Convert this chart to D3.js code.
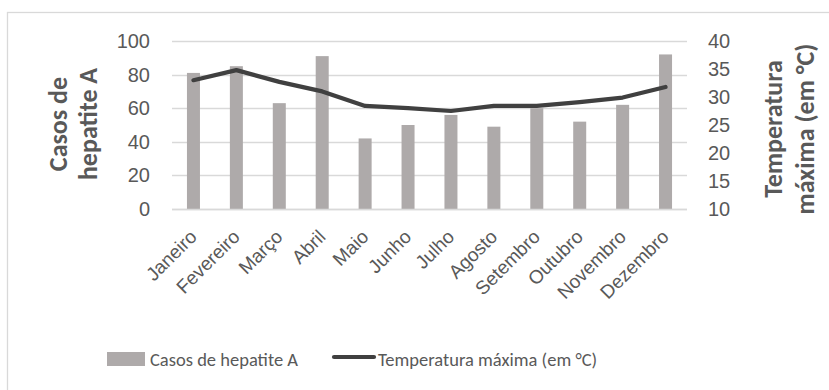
<!DOCTYPE html>
<html>
<head>
<meta charset="utf-8">
<script src="https://cdn.jsdelivr.net/npm/d3@7"></script>
<style>
  html, body { margin: 0; padding: 0; background: #fff; }
  svg { display: block; font-family: Carlito, Calibri, Lato, "Open Sans", sans-serif; }
</style>
</head>
<body>
<svg id="chart" width="829" height="390"></svg>
<script>
// Monthly data
const months = ["Janeiro", "Fevereiro", "Março", "Abril", "Maio", "Junho",
                "Julho", "Agosto", "Setembro", "Outubro", "Novembro", "Dezembro"];
const hepatitisCases = [81, 85, 63, 91, 42, 50, 56, 49, 60, 52, 62, 92];
const maxTemperature = [33.0, 34.8, 32.7, 31.0, 28.4, 28.0, 27.5, 28.4, 28.4, 29.1, 29.9, 31.8];
const leftTicks = [0, 20, 40, 60, 80, 100];
const rightTicks = [10, 15, 20, 25, 30, 35, 40];

const svg = d3.select("#chart");
const textColor = "#595959";
const gridColor = "#d9d9d9";
const barColor = "#aeaaaa";
const lineColor = "#404040";

// Chart frame
svg.append("rect")
  .attr("x", 7.5).attr("y", 12.5)
  .attr("width", 840).attr("height", 400)
  .attr("fill", "none").attr("stroke", gridColor).attr("stroke-width", 1.3);

const plot = { left: 172, right: 687, top: 41, bottom: 209 };

const xc = d3.scalePoint().domain(months).range([plot.left, plot.right]).padding(0.5);
const yL = d3.scaleLinear().domain([0, 100]).range([plot.bottom, plot.top]);
const yR = d3.scaleLinear().domain([10, 40]).range([plot.bottom, plot.top]);

// Gridlines
svg.append("g").selectAll("line").data(leftTicks).join("line")
  .attr("x1", plot.left).attr("x2", plot.right)
  .attr("y1", d => Math.round(yL(d)) + 0.5).attr("y2", d => Math.round(yL(d)) + 0.5)
  .attr("stroke", gridColor).attr("stroke-width", 1.3);

// Bars
svg.append("g").selectAll("rect").data(months).join("rect")
  .attr("x", (d) => xc(d) - 6.5)
  .attr("width", 13)
  .attr("y", (d, i) => yL(hepatitisCases[i]))
  .attr("height", (d, i) => yL(0) - yL(hepatitisCases[i]))
  .attr("fill", barColor);

// Baseline
svg.append("line")
  .attr("x1", plot.left).attr("x2", plot.right)
  .attr("y1", yL(0) + 0.5).attr("y2", yL(0) + 0.5)
  .attr("stroke", gridColor).attr("stroke-width", 1.3);

// Temperature line
svg.append("path")
  .datum(maxTemperature)
  .attr("d", d3.line().x((d, i) => xc(months[i])).y(d => yR(d)))
  .attr("fill", "none").attr("stroke", lineColor)
  .attr("stroke-width", 4.2).attr("stroke-linecap", "round").attr("stroke-linejoin", "round");

// Left axis
const leftAxis = d3.axisLeft(yL).tickValues(leftTicks).tickSize(0).tickPadding(0);
const gL = svg.append("g").attr("transform", `translate(150,0)`).call(leftAxis);
gL.select(".domain").remove();
gL.selectAll("text").attr("fill", textColor).attr("font-size", 20).attr("font-family", null);

// Right axis
const rightAxis = d3.axisRight(yR).tickValues(rightTicks).tickSize(0).tickPadding(0);
const gR = svg.append("g").attr("transform", `translate(708,0)`).call(rightAxis);
gR.select(".domain").remove();
gR.selectAll("text").attr("fill", textColor).attr("font-size", 20).attr("font-family", null);

// Category axis
const bottomAxis = d3.axisBottom(xc).tickSize(0).tickPadding(0);
const gB = svg.append("g").attr("transform", `translate(0,${plot.bottom})`).call(bottomAxis);
gB.select(".domain").remove();
gB.selectAll("text")
  .attr("fill", textColor).attr("font-size", 19).attr("font-family", null)
  .attr("text-anchor", "end")
  .attr("dy", null).attr("y", 0)
  .attr("transform", "translate(4,29) rotate(-45)");

// Axis titles
function axisTitle(lines, cx, cy, baselines) {
  const t = svg.append("text")
    .attr("transform", `translate(${cx},${cy}) rotate(-90)`)
    .attr("text-anchor", "middle")
    .attr("fill", textColor).attr("font-size", 26).attr("font-weight", "bold");
  lines.forEach((s, i) => {
    t.append("tspan").attr("x", 0).attr("y", baselines[i] - cx).text(s);
  });
}
axisTitle(["Casos de", "hepatite A"], 75, 124, [67, 97]);
axisTitle(["Temperatura", "máxima (em °C)"], 790, 129, [782, 814]);

// Legend
const lg = svg.append("g");
lg.append("rect").attr("x", 107).attr("y", 352).attr("width", 38).attr("height", 14).attr("fill", barColor);
lg.append("text").attr("x", 150).attr("y", 366).attr("fill", textColor).attr("font-size", 18.5)
  .text("Casos de hepatite A");
lg.append("line").attr("x1", 334).attr("x2", 374).attr("y1", 357).attr("y2", 357)
  .attr("stroke", lineColor).attr("stroke-width", 4.2).attr("stroke-linecap", "round");
lg.append("text").attr("x", 378).attr("y", 366).attr("fill", textColor).attr("font-size", 18.5)
  .text("Temperatura máxima (em °C)");
</script>
</body>
</html>
